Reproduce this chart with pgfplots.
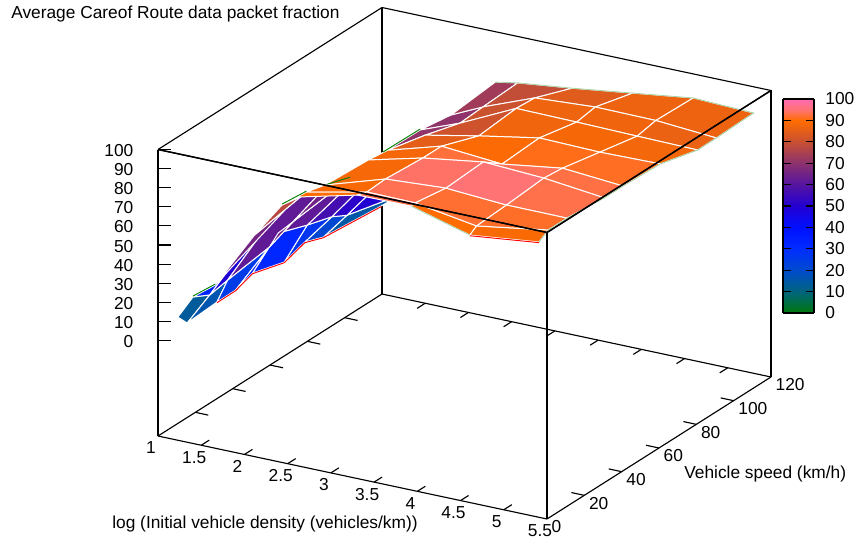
\documentclass[border=0pt]{standalone}
\usepackage{fontspec}
\setmainfont{Liberation Sans}
\usepackage{pgfplots}
\usepackage{pgfplotstable}
\pgfplotsset{compat=1.18}
\newcommand\fs{\fontsize{13}{15.5}\selectfont}
\definecolor{palegreen}{RGB}{165,210,165}
\definecolor{gpgreen}{RGB}{0,130,0}
\definecolor{gpred}{RGB}{255,0,0}
\pgfplotsset{
  colormap={gp}{rgb255=(0,120,10) rgb255=(0,110,68) rgb255=(0,100,125) rgb255=(0,88,165) rgb255=(0,75,205) rgb255=(0,60,230) rgb255=(0,45,255) rgb255=(0,30,255) rgb255=(0,15,255) rgb255=(18,8,232) rgb255=(35,0,210) rgb255=(60,10,185) rgb255=(85,20,160) rgb255=(112,35,135) rgb255=(140,50,110) rgb255=(170,65,80) rgb255=(200,80,50) rgb255=(228,94,25) rgb255=(255,108,0) rgb255=(255,115,115) rgb255=(255,105,180)},
  /pgf/number format/assume math mode=true,
}
\pgfplotstableread{
x y z
1.1 6 9.5
1.1 11 3.3
1.1 27 4.4
1.1 37 4.5
1.1 46 7.8
1.1 63 3
1.1 74 6.7
1.1 84 3.1
1.1 115 0.2
1.23 8.1 20
1.40 9.2 22
1.69 5.4 35
2.2 4.2 58
2.19 9.3 62
2.15 26.7 55
1.91 51 42
1.76 66 32
1.76 94.5 25
1.52 6.5 30
1.96 7.3 60
2.31 5.8 80
2.31 30 75.4
2.14 50 65
2.09 70 65.3
2.09 90 65
2.23 100 68
2.31 120 73.6
2.5 5 86.5
2.5 10 86
2.5 20 83.5
2.57 40 84.9
2.58 50 83.9
2.58 70 79.4
2.55 90 73
2.6 100 75.8
2.57 120 75.7
3.2 5 94.3
3.2 10 92.8
3.2 20 93.4
3.2 40 92
3.2 50 92
3.2 70 85
3.2 90 87
3.2 100 86.3
3.2 120 79
3.82 5 94.5
3.76 10 92.5
3.9 20 95.4
3.9 40 96.7
3.9 50 89.4
3.9 70 90.7
3.9 90 86.6
3.9 100 88.3
3.9 120 83.2
4.5 5 85.9
4.47 10 87.3
4.6 20 93.3
4.6 40 95
4.6 50 94
4.6 70 90
4.6 90 86
4.6 100 88
4.6 120 87.4
5.3 5 90
5.3 10 93.2
5.3 20 93.2
5.3 40 91.4
5.3 50 91.4
5.3 70 90.6
5.3 90 85.5
5.3 100 85.6
5.3 120 86.3
}\surfdata
\begin{document}
\begin{tikzpicture}
\useasboundingbox (0,0) rectangle (642pt,406.5pt);
\begin{axis}[
  at={(118.5pt,17.25pt)}, anchor=south west,
  x={(64.83pt,-13.83pt)}, y={(1.4pt,0.8875pt)}, z={(0pt,1.4325pt)},
  xmin=1, xmax=5.5, ymin=0, ymax=120, zmin=-50, zmax=100,
  axis lines=box, 3d box=complete, clip=false,
  axis line style={line width=0.85pt},
  major tick length=0pt, tick style={draw=none},
  xtick={1,1.5,...,5.5}, ytick={0,20,...,120}, ztick={0,10,...,100},
  xticklabels={1,1.5,2,2.5,3,3.5,4,4.5,5,5.5},
  tick label style={font=\fs},
  xticklabel style={anchor=center,xshift=-5.25pt,yshift=-9pt},
  yticklabel style={anchor=west,xshift=0pt,yshift=-6pt},
  zticklabel style={anchor=east,xshift=-15pt,yshift=-0.8pt},
  point meta min=0, point meta max=100,
  colormap name=gp,
]
\pgfplotsinvokeforeach{1.5,2,2.5,3,3.5,4,4.5,5}{
  \draw[line width=0.85pt] (axis cs:#1,0,-50) -- (axis cs:#1,4.3,-50);
  \draw[line width=0.85pt] (axis cs:#1,120,-50) -- (axis cs:#1,115.7,-50);
}
\pgfplotsinvokeforeach{20,40,60,80,100}{
  \draw[line width=0.85pt] (axis cs:5.5,#1,-50) -- (axis cs:5.35,#1,-50);
  \draw[line width=0.85pt] (axis cs:1,#1,-50) -- (axis cs:1.15,#1,-50);
}
\pgfplotsinvokeforeach{0,10,...,100}{
  \draw[line width=0.85pt] (axis cs:1,0,#1) -- ++(9.75pt,0pt);
}
\addplot3[surf, shader=faceted, faceted color=white, line width=0.75pt, z buffer=sort, mesh/ordering=y varies, mesh/rows=9, mesh/cols=8] table[x=x,y=y,z=z] {\surfdata};
% surface lines that show at the rim of the coloured surface
\addplot3[gpred, line width=0.7pt, no marks, yshift=-0.5pt] coordinates {(1.1,27,4.4) (1.1,37,4.5) (1.1,46,7.8) (1.1,63,3) (1.1,74,6.7) (1.1,84,3.1) (1.1,115,0.2)};
\addplot3[gpred, line width=0.7pt, no marks, yshift=-0.5pt] coordinates {(4.5,5,85.9) (5.3,5,90)};
\addplot3[gpgreen, line width=0.7pt, no marks, yshift=0.7pt] coordinates {(1.23,8.1,20) (1.52,6.5,30)};
\addplot3[gpgreen, line width=0.7pt, no marks, yshift=0.7pt] coordinates {(2.31,5.8,80) (2.5,10,86)};
\addplot3[gpgreen, line width=0.7pt, no marks, yshift=0.7pt] coordinates {(2.31,30,75.4) (2.14,50,65)};
\addplot3[gpgreen, line width=0.7pt, no marks, yshift=0.7pt] coordinates {(2.09,70,65.3) (2.09,90,65)};
\addplot3[palegreen, line width=0.6pt, no marks] coordinates {(2.31,120,73.6) (2.57,120,75.7) (3.2,120,79) (3.9,120,83.2) (4.6,120,87.4) (5.3,120,86.3) (5.3,100,85.6) (5.3,90,85.5) (5.3,70,90.6) (5.3,50,91.4) (5.3,40,91.4) (5.3,20,93.2) (5.3,10,93.2) (5.3,5,90)};
\addplot3[palegreen, line width=0.6pt, no marks] coordinates {(3.82,5,94.5) (4.5,5,85.9)};
\draw[line width=1.1pt] (axis cs:1,0,100) -- (axis cs:5.5,0,100) -- (axis cs:5.5,120,100);
\draw[line width=0.85pt] (axis cs:5.5,0,-50) -- (axis cs:5.5,0,100);
\end{axis}
\begin{axis}[
  at={(587.25pt,171.75pt)}, anchor=south west, scale only axis,
  width=23.25pt, height=160.5pt,
  xmin=0, xmax=1, ymin=0, ymax=100, view={0}{90},
  xtick=\empty, ytick={0,10,...,100},
  tick align=inside, major tick length=6pt,
  yticklabel pos=right, ytick pos=both,
  axis line style={line width=1pt}, tick style={line width=0.9pt,black},
  tick label style={font=\fs},
  yticklabel style={anchor=west,xshift=5pt},
  point meta min=0, point meta max=100, colormap name=gp,
  axis on top,
]
\addplot3[surf, shader=interp, point meta=y, mesh/rows=2, mesh/cols=2] table {
x y z
0 0 0
1 0 0
0 100 0
1 100 0
};
\end{axis}
\node[anchor=west,inner sep=0pt,font=\fs] at (8.25pt,396pt) {Average Careof Route data packet fraction};
\node[anchor=center,inner sep=0pt,font=\fs] at (198.75pt,13.5pt) {log (Initial vehicle density (vehicles/km))};
\node[anchor=west,inner sep=0pt,font=\fs] at (513pt,51pt) {Vehicle speed (km/h)};
\end{tikzpicture}
\end{document}
